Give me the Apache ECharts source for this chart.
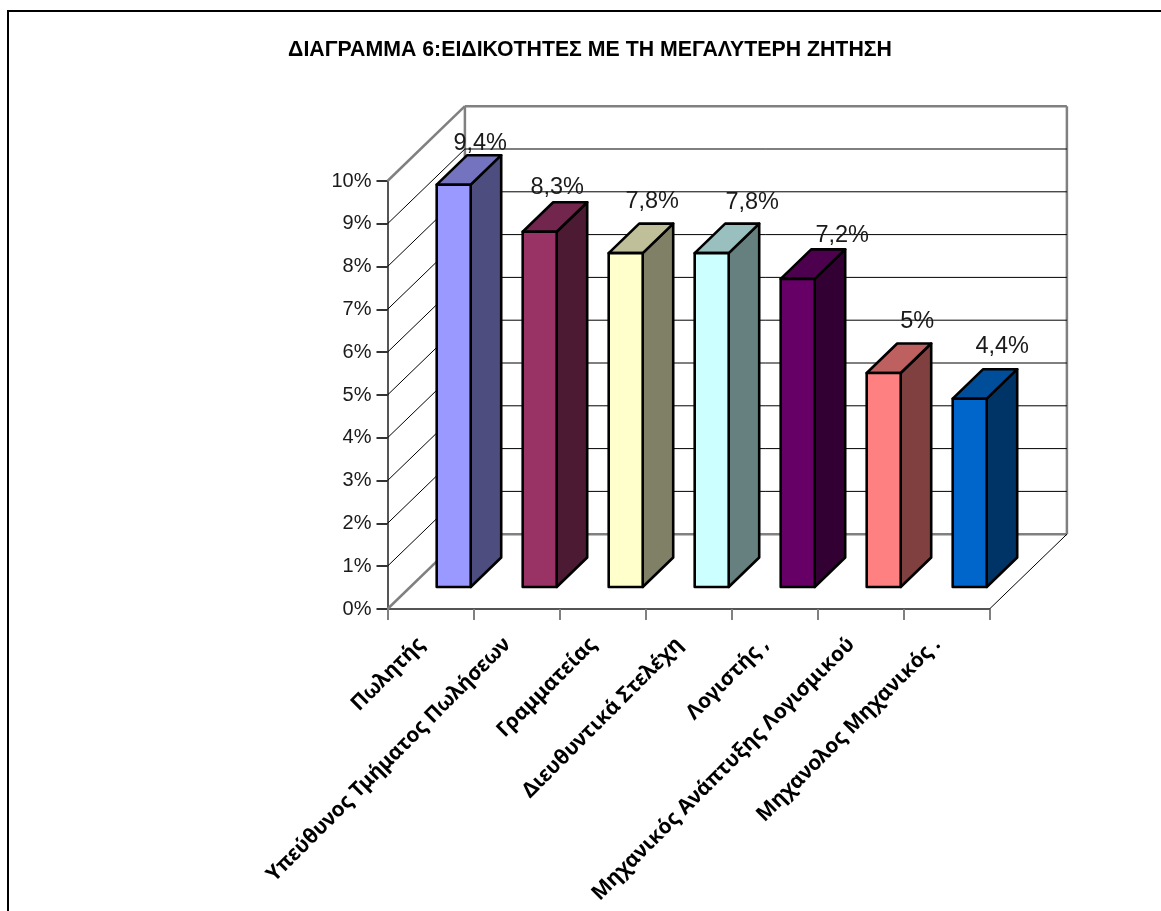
<!DOCTYPE html>
<html>
<head>
<meta charset="utf-8">
<style>html,body{margin:0;padding:0;background:#fff}#c{width:1161px;height:911px}</style>
<script src="https://cdn.jsdelivr.net/npm/echarts@6/dist/echarts.min.js"></script>
</head>
<body>
<div id="c"></div>
<script>
const chartTitle = 'ΔΙΑΓΡΑΜΜΑ 6:ΕΙΔΙΚΟΤΗΤΕΣ ΜΕ ΤΗ ΜΕΓΑΛΥΤΕΡΗ ΖΗΤΗΣΗ';
const categories = ['Πωλητής', 'Υπεύθυνος Τμήματος Πωλήσεων', 'Γραμματείας', 'Διευθυντικά Στελέχη', 'Λογιστής ,', 'Μηχανικός Ανάπτυξης Λογισμικού', 'Μηχανολος Μηχανικός .'];
const values = [9.4, 8.3, 7.8, 7.8, 7.2, 5, 4.4];
const valueLabels = ['9,4%', '8,3%', '7,8%', '7,8%', '7,2%', '5%', '4,4%'];
const frontColors = ['#9999FF', '#993366', '#FFFFCC', '#CCFFFF', '#660066', '#FF8080', '#0066CC'];
const topColors = ['#7373BF', '#73264D', '#BFBF99', '#99BFBF', '#4D004D', '#BF6060', '#004D99'];
const sideColors = ['#4D4D80', '#4D1A33', '#808066', '#668080', '#330033', '#804040', '#003366'];
const wallTicks = [0, 1, 2, 3, 4, 5, 6, 7, 8, 9, 10];

// Oblique projection of the 3D box, in pixels
const WALL_DX = 77.4, WALL_DY = -74.8;
const BAR_DX = 30.5, BAR_DY = -29.5;
const BAR_LIFT = 22, BAR_SHIFT = 23.2, BAR_W = 34;
// Hand placed data labels, relative to the back right corner of each bar top
const labelShift = [[-21, -12], [-30, -15], [-21, -22], [-7, -21], [-3, -14], [-14, -22], [-15, -23]];

const chart = echarts.init(document.getElementById('c'), null, {renderer: 'canvas'});

function renderWall(params, api) {
  const v = api.value(0);
  const p = api.coord([0, v]);
  const x0 = params.coordSys.x, x1 = x0 + params.coordSys.width, y = p[1];
  const edge = v === 0 || v === 10;
  const grey = {stroke: '#808080', lineWidth: 2.5, fill: null};
  const thin = {stroke: '#000', lineWidth: 1, fill: null};
  const children = [];
  // back wall line and left wall line for this tick
  children.push({type: 'line', shape: {x1: x0 + WALL_DX, y1: y + WALL_DY, x2: x1 + WALL_DX, y2: y + WALL_DY}, style: edge ? grey : thin});
  children.push({type: 'line', shape: {x1: x0, y1: y, x2: x0 + WALL_DX, y2: y + WALL_DY}, style: edge ? grey : thin});
  if (v === 0) {
    const top = api.coord([0, 10])[1] + WALL_DY;
    children.push({type: 'line', shape: {x1: x0 + WALL_DX, y1: y + WALL_DY, x2: x0 + WALL_DX, y2: top}, style: grey});
    children.push({type: 'line', shape: {x1: x1 + WALL_DX, y1: y + WALL_DY, x2: x1 + WALL_DX, y2: top}, style: grey});
    children.push({type: 'line', shape: {x1: x1, y1: y, x2: x1 + WALL_DX, y2: y + WALL_DY}, style: thin});
  }
  return {type: 'group', children};
}

function renderBar(params, api) {
  const i = api.value(0), val = api.value(1);
  const base = api.coord([i, 0]), head = api.coord([i, val]);
  const xl = base[0] + BAR_SHIFT - BAR_W / 2, xr = xl + BAR_W;
  const yb = base[1] - BAR_LIFT, yt = head[1] - BAR_LIFT;
  const line = {stroke: '#000', lineWidth: 2.6, lineJoin: 'round'};
  const poly = (points, fill) => ({type: 'polygon', shape: {points}, style: {...line, fill}});
  return {type: 'group', children: [
    poly([[xr, yb], [xr + BAR_DX, yb + BAR_DY], [xr + BAR_DX, yt + BAR_DY], [xr, yt]], sideColors[i]),
    poly([[xl, yt], [xr, yt], [xr + BAR_DX, yt + BAR_DY], [xl + BAR_DX, yt + BAR_DY]], topColors[i]),
    poly([[xl, yb], [xr, yb], [xr, yt], [xl, yt]], frontColors[i]),
    {type: 'text', z2: 10, style: {
      x: xr + BAR_DX + labelShift[i][0], y: yt + BAR_DY + labelShift[i][1],
      text: valueLabels[i], align: 'center', verticalAlign: 'middle',
      font: '23.5px "Liberation Sans"', fill: '#1a1a1a'
    }}
  ]};
}

chart.setOption({
  animation: false,
  backgroundColor: '#fff',
  title: {
    text: chartTitle, left: 585, top: 35, textAlign: 'center',
    textStyle: {fontFamily: '"Liberation Sans"', fontWeight: 'bold', fontSize: 21.3, color: '#000'}
  },
  graphic: [{
    type: 'polyline', silent: true,
    shape: {points: [[8, 925], [8, 11], [1175, 11]]},
    style: {stroke: '#000', lineWidth: 2, fill: null}
  }],
  grid: {left: 387.5, top: 181, width: 602, height: 428, containLabel: false},
  xAxis: {
    type: 'category', data: categories, boundaryGap: true,
    axisLine: {lineStyle: {color: '#555', width: 2}},
    axisTick: {show: true, alignWithLabel: false, length: 11, lineStyle: {color: '#808080', width: 2}},
    axisLabel: {
      interval: 0, rotate: 45, margin: 23, hideOverlap: false, padding: [0, 13, 0, 0],
      fontFamily: '"Noto Sans"', fontWeight: 'bold', fontSize: 20.8, color: '#000'
    }
  },
  yAxis: {
    type: 'value', min: 0, max: 10, interval: 1,
    axisLine: {show: true, lineStyle: {color: '#555', width: 2}},
    axisTick: {show: true, length: 11, lineStyle: {color: '#333', width: 2}},
    axisLabel: {margin: 16, formatter: '{value}%', fontFamily: '"Liberation Sans"', fontSize: 20, color: '#1a1a1a'},
    splitLine: {show: false}
  },
  series: [
    {type: 'custom', z: 1, clip: false, silent: true, renderItem: renderWall, data: wallTicks.map(t => [t]), encode: {y: 0}},
    {type: 'custom', z: 3, clip: false, silent: true, renderItem: renderBar, data: values.map((v, i) => [i, v]), encode: {x: 0, y: 1}}
  ]
});
</script>
</body>
</html>
